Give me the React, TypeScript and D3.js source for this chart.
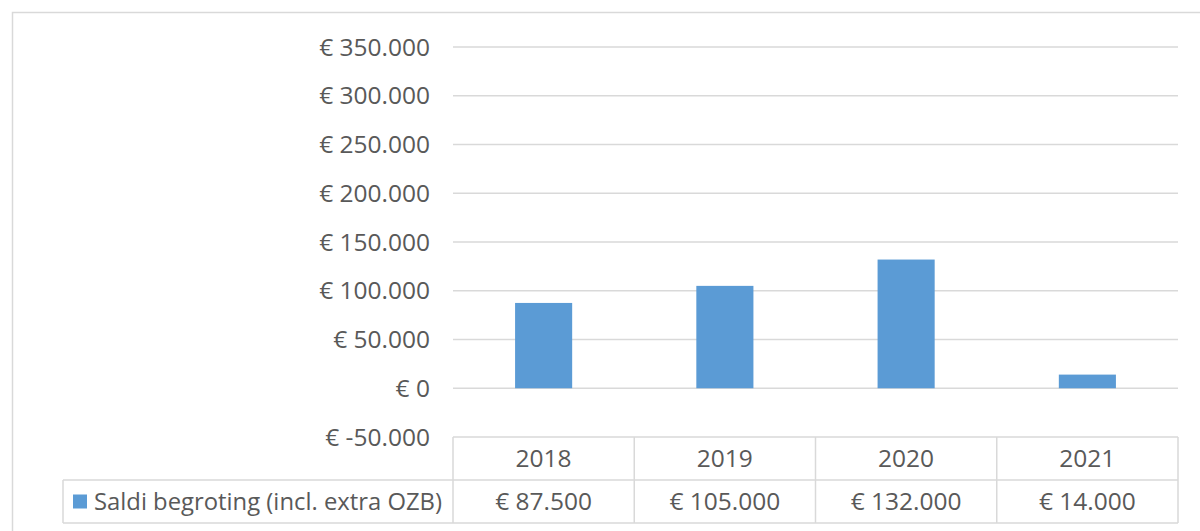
import React from 'react';
import * as d3 from 'd3';

// data
const years = ['2018', '2019', '2020', '2021'];
const saldi = [87500, 105000, 132000, 14000];
const yTicks = [-50000, 0, 50000, 100000, 150000, 200000, 250000, 300000, 350000];
const seriesName = 'Saldi begroting (incl. extra OZB)';

const width = 1200, height = 531;
const plotLeft = 453, plotRight = 1178, plotTop = 47, plotBottom = 437;
const rowH = 43;
const font = '"Open Sans", sans-serif';
const fontSize = 24.5;
const textColor = '#595959';
const gridColor = '#d9d9d9';
const barColor = '#5b9bd5';

// € 350.000 style (dutch thousands)
const fmt = (v: number) => '€ ' + (v < 0 ? '-' : '') + d3.format(',')(Math.abs(v)).replace(/,/g, '.');

export default function App() {
  const y = d3.scaleLinear().domain([-50000, 350000]).range([plotBottom, plotTop]);
  const x = d3.scaleBand().domain(years).range([plotLeft, plotRight]);
  const bw = x.bandwidth() * 0.315;
  const row1 = plotBottom + rowH;
  const row2 = row1 + rowH;

  return (
    <svg width={width} height={height} style={{ position: 'absolute', left: 0, top: 0, background: '#fff' }}>
      {/* outer chart frame */}
      <path d={`M12.5,${height}V12.5H${width}`} fill="none" stroke={gridColor} strokeWidth={1.5} />

      {/* gridlines + y labels */}
      {yTicks.map(t => (
        <g key={t}>
          {t > -50000 && (
            <line x1={plotLeft} x2={plotRight} y1={y(t)} y2={y(t)} stroke={gridColor} strokeWidth={1.5} />
          )}
          <text x={430} y={y(t)} dy="0.35em" textAnchor="end" fontFamily={font} fontSize={fontSize} fill={textColor}>
            {fmt(t)}
          </text>
        </g>
      ))}

      {/* bars */}
      {saldi.map((v, i) => (
        <rect key={years[i]}
          x={x(years[i])! + (x.bandwidth() - bw) / 2}
          y={y(Math.max(0, v))}
          width={bw}
          height={Math.abs(y(v) - y(0))}
          fill={barColor} />
      ))}

      {/* data table */}
      <g fill="none" stroke={gridColor} strokeWidth={1.5}>
        <line x1={plotLeft} x2={plotRight} y1={plotBottom} y2={plotBottom} />
        <line x1={63} x2={plotRight} y1={row1} y2={row1} />
        <line x1={63} x2={plotRight} y1={row2} y2={row2} />
        <line x1={63} x2={63} y1={row1} y2={row2} />
        {years.map(yr => (
          <line key={yr} x1={x(yr)} x2={x(yr)} y1={plotBottom} y2={row2} />
        ))}
        <line x1={plotRight} x2={plotRight} y1={plotBottom} y2={row2} />
      </g>
      {years.map((yr, i) => (
        <g key={yr} fontFamily={font} fontSize={fontSize} fill={textColor} textAnchor="middle">
          <text x={x(yr)! + x.bandwidth() / 2} y={plotBottom + rowH / 2} dy="0.35em">{yr}</text>
          <text x={x(yr)! + x.bandwidth() / 2} y={row1 + rowH / 2} dy="0.35em">{fmt(saldi[i])}</text>
        </g>
      ))}
      <rect x={73} y={row1 + rowH / 2 - 7} width={14} height={14} fill={barColor} />
      <text x={94} y={row1 + rowH / 2} dy="0.35em" fontFamily={font} fontSize={fontSize} fill={textColor}
        textLength={348} lengthAdjust="spacingAndGlyphs">
        {seriesName}
      </text>
    </svg>
  );
}
